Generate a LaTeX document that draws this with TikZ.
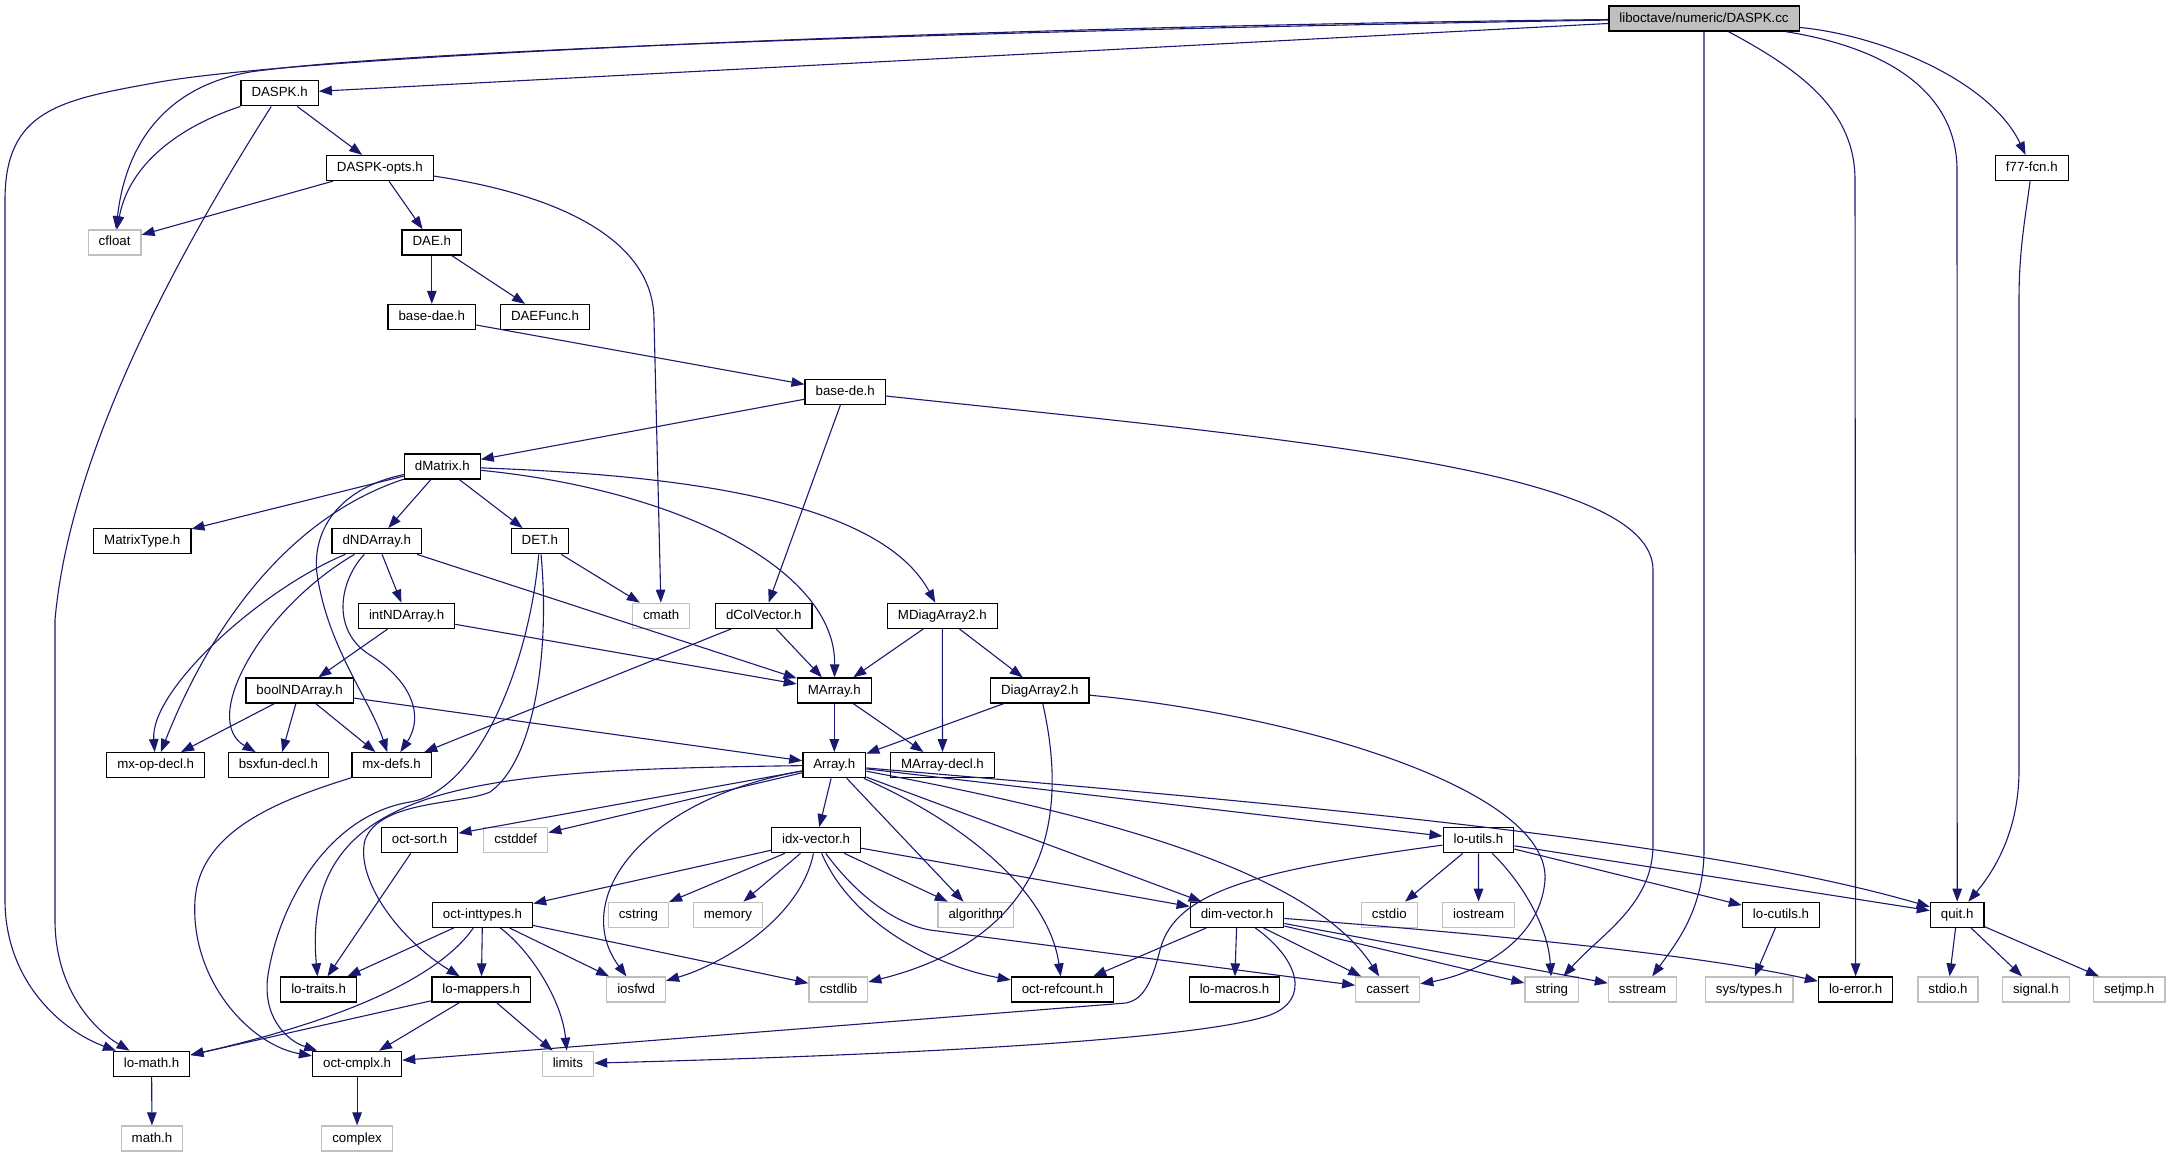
\documentclass[tikz,border=0pt]{standalone}
\usepackage{fontspec}
\setmainfont{Liberation Sans}
\usetikzlibrary{arrows.meta}

\definecolor{edgeblue}{HTML}{191970}
\definecolor{sysgrey}{HTML}{BFBFBF}

\tikzset{
  hdr/.style={draw=black, fill=white, line width=1.3pt, inner xsep=10.5pt, inner ysep=0pt,
    minimum height=25pt, text height=9.6pt, text depth=2.6pt, font=\fontsize{13.3}{15}\selectfont},
  sys/.style={hdr, draw=sysgrey},
  root/.style={hdr, fill=sysgrey},
  dep/.style={draw=edgeblue, line width=1.1pt, -{Triangle[length=13pt,width=9.5pt]}},
}

\begin{document}
\begin{tikzpicture}[x=1pt, y=-1pt]

\useasboundingbox (0,0) rectangle (2171,1157);

% les fichiers
\node[root] (cc) at (1704,18.5) {liboctave/numeric/DASPK.cc};
\node[hdr] (daspkh) at (279.6,93.3) {DASPK.h};
\node[hdr] (dopts) at (379.8,168) {DASPK-opts.h};
\node[hdr] (f77) at (2031.8,168) {f77-fcn.h};
\node[sys] (cfloat) at (114.6,242.4) {cfloat};
\node[hdr] (dae) at (431.8,242.4) {DAE.h};
\node[hdr] (basedae) at (431.8,317) {base-dae.h};
\node[hdr] (daefunc) at (545,317) {DAEFunc.h};
\node[hdr] (basede) at (845.2,391.7) {base-de.h};
\node[hdr] (dmatrix) at (442.3,466.5) {dMatrix.h};
\node[hdr] (mtype) at (142.3,541.2) {MatrixType.h};
\node[hdr] (dnd) at (376.8,541.2) {dNDArray.h};
\node[hdr] (det) at (539.8,541.2) {DET.h};
\node[hdr] (intnd) at (406.6,615.8) {intNDArray.h};
\node[sys] (cmath) at (661.2,615.8) {cmath};
\node[hdr] (dcol) at (763.8,615.8) {dColVector.h};
\node[hdr] (mdiag) at (942.3,615.8) {MDiagArray2.h};
\node[hdr] (boolnd) at (299.6,690.5) {boolNDArray.h};
\node[hdr] (marray) at (834.3,690.5) {MArray.h};
\node[hdr] (diag) at (1039.8,690.5) {DiagArray2.h};
\node[hdr] (mxop) at (155.7,765.2) {mx-op-decl.h};
\node[hdr] (bsx) at (278.4,765.2) {bsxfun-decl.h};
\node[hdr] (mxdefs) at (391.6,765.2) {mx-defs.h};
\node[hdr] (array) at (834.3,765.2) {Array.h};
\node[hdr] (mdecl) at (942.5,765.2) {MArray-decl.h};
\node[hdr] (octsort) at (419.6,840.2) {oct-sort.h};
\node[sys] (cstddef) at (515.7,840.2) {cstddef};
\node[hdr] (idx) at (816.1,840.2) {idx-vector.h};
\node[hdr] (loutils) at (1478.4,840.2) {lo-utils.h};
\node[hdr] (octint) at (482.5,914.8) {oct-inttypes.h};
\node[sys] (cstring) at (638.4,914.8) {cstring};
\node[sys] (memory) at (727.9,914.8) {memory};
\node[sys] (algorithm) at (975.9,914.8) {algorithm};
\node[hdr] (dimvec) at (1237,914.8) {dim-vector.h};
\node[sys] (cstdio) at (1389.3,914.8) {cstdio};
\node[sys] (iostream) at (1478.6,914.8) {iostream};
\node[hdr] (locutils) at (1781,914.8) {lo-cutils.h};
\node[hdr] (quit) at (1957.2,914.8) {quit.h};
\node[hdr] (lotraits) at (318.6,989.5) {lo-traits.h};
\node[hdr] (lomappers) at (481.3,989.5) {lo-mappers.h};
\node[sys] (iosfwd) at (636.1,989.5) {iosfwd};
\node[sys] (cstdlib) at (838.4,989.5) {cstdlib};
\node[hdr] (octref) at (1062.5,989.5) {oct-refcount.h};
\node[hdr] (lomacros) at (1234.5,989.5) {lo-macros.h};
\node[sys] (cassert) at (1387.7,989.5) {cassert};
\node[sys] (string) at (1551.8,989.5) {string};
\node[sys] (sstream) at (1642.6,989.5) {sstream};
\node[sys] (systypes) at (1749.1,989.5) {sys/types.h};
\node[hdr] (loerror) at (1855.6,989.5) {lo-error.h};
\node[sys] (stdioh) at (1948,989.5) {stdio.h};
\node[sys] (signalh) at (2035.9,989.5) {signal.h};
\node[sys] (setjmph) at (2129.2,989.5) {setjmp.h};
\node[hdr] (lomath) at (151.6,1063.8) {lo-math.h};
\node[hdr] (octcmplx) at (357.1,1063.8) {oct-cmplx.h};
\node[sys] (limits) at (567.9,1063.8) {limits};
\node[sys] (mathh) at (152,1138.5) {math.h};
\node[sys] (complex) at (357.1,1138.5) {complex};

% DASPK.cc
\draw[dep] (cc) .. controls (1000,30) and (400,50) .. (250,72) .. controls (160,88) and (125,150) .. (cfloat);
\draw[dep] (cc) -- (daspkh);
\draw[dep] (cc) .. controls (1000,26) and (300,55) .. (154,83) .. controls (60,100) and (5,110) .. (5,200) -- (5,900) .. controls (5,980) and (60,1030) .. (lomath);
\draw[dep] (cc) .. controls (1880,35) and (1990,80) .. (f77);
\draw[dep] (cc) .. controls (1900,50) and (1957,100) .. (1957,170) -- (quit);
\draw[dep] (cc) .. controls (1800,70) and (1855,110) .. (1855,180) -- (loerror);
\draw[dep] (cc) -- (1704,850) .. controls (1704,910) and (1675,945) .. (sstream);
\draw[dep] (f77) .. controls (2025,220) and (2019,250) .. (2019,300) -- (2019,770) .. controls (2019,830) and (1995,870) .. (quit);

% DASPK.h, DAE
\draw[dep] (daspkh) .. controls (170,130) and (128,170) .. (cfloat);
\draw[dep] (daspkh) -- (dopts);
\draw[dep] (daspkh) .. controls (180,250) and (70,450) .. (55,620) -- (55,920) .. controls (55,990) and (95,1030) .. (lomath);
\draw[dep] (dopts) -- (cfloat);
\draw[dep] (dopts) -- (dae);
\draw[dep] (dopts) .. controls (560,195) and (654,240) .. (654,320) -- (cmath);
\draw[dep] (dae) -- (basedae);
\draw[dep] (dae) -- (daefunc);
\draw[dep] (basedae) -- (basede);
\draw[dep] (basede) -- (dmatrix);
\draw[dep] (basede) -- (dcol);
\draw[dep] (basede) .. controls (1300,440) and (1653,470) .. (1653,570) -- (1653,845) .. controls (1653,905) and (1600,935) .. (string);

% matrices
\draw[dep] (dmatrix) -- (mtype);
\draw[dep] (dmatrix) -- (dnd);
\draw[dep] (dmatrix) -- (det);
\draw[dep] (dmatrix) .. controls (280,520) and (205,640) .. (mxop);
\draw[dep] (dmatrix) .. controls (330,490) and (310,540) .. (318,580) .. controls (330,650) and (370,700) .. (mxdefs);
\draw[dep] (dmatrix) .. controls (680,490) and (836,570) .. (marray);
\draw[dep] (dmatrix) .. controls (680,475) and (880,500) .. (mdiag);
\draw[dep] (dnd) -- (intnd);
\draw[dep] (dnd) .. controls (260,590) and (150,690) .. (mxop);
\draw[dep] (dnd) .. controls (260,610) and (200,720) .. (bsx);
\draw[dep] (dnd) .. controls (340,580) and (330,630) .. (370,655) .. controls (410,680) and (425,715) .. (mxdefs);
\draw[dep] (dnd) -- (marray);
\draw[dep] (intnd) -- (boolnd);
\draw[dep] (intnd) -- (marray);
\draw[dep] (boolnd) -- (mxop);
\draw[dep] (boolnd) -- (bsx);
\draw[dep] (boolnd) -- (mxdefs);
\draw[dep] (boolnd) -- (array);
\draw[dep] (det) -- (cmath);
\draw[dep] (det) .. controls (530,660) and (480,790) .. (410,802) .. controls (330,815) and (280,900) .. (268,975) .. controls (262,1015) and (285,1040) .. (octcmplx);
\draw[dep] (det) .. controls (550,650) and (535,760) .. (490,792) .. controls (460,805) and (380,800) .. (365,840) .. controls (355,880) and (400,940) .. (lomappers);
\draw[dep] (dcol) -- (marray);
\draw[dep] (dcol) -- (mxdefs);
\draw[dep] (mdiag) -- (marray);
\draw[dep] (mdiag) -- (mdecl);
\draw[dep] (mdiag) -- (diag);
\draw[dep] (marray) -- (array);
\draw[dep] (marray) -- (mdecl);
\draw[dep] (diag) -- (array);
\draw[dep] (diag) .. controls (1300,715) and (1550,790) .. (1545,880) .. controls (1540,945) and (1470,975) .. (cassert);
\draw[dep] (diag) .. controls (1060,780) and (1075,930) .. (cstdlib);
\draw[dep] (mxdefs) .. controls (280,800) and (200,830) .. (195,900) .. controls (190,980) and (250,1045) .. (octcmplx);

% Array.h
\draw[dep] (array) -- (idx);
\draw[dep] (array) .. controls (480,770) and (300,780) .. (lotraits);
\draw[dep] (array) -- (octsort);
\draw[dep] (array) -- (cstddef);
\draw[dep] (array) .. controls (640,800) and (570,900) .. (iosfwd);
\draw[dep] (array) -- (algorithm);
\draw[dep] (array) .. controls (980,830) and (1050,900) .. (octref);
\draw[dep] (array) -- (dimvec);
\draw[dep] (array) .. controls (1100,815) and (1310,870) .. (cassert);
\draw[dep] (array) -- (loutils);
\draw[dep] (array) .. controls (1300,805) and (1700,840) .. (quit);

% idx-vector.h
\draw[dep] (idx) -- (octint);
\draw[dep] (idx) -- (cstring);
\draw[dep] (idx) -- (memory);
\draw[dep] (idx) .. controls (800,920) and (720,965) .. (iosfwd);
\draw[dep] (idx) .. controls (850,920) and (930,965) .. (octref);
\draw[dep] (idx) .. controls (860,900) and (900,925) .. (930,930) -- (cassert);
\draw[dep] (idx) -- (algorithm);
\draw[dep] (idx) -- (dimvec);

% oct-inttypes.h
\draw[dep] (octint) -- (lotraits);
\draw[dep] (octint) -- (lomappers);
\draw[dep] (octint) .. controls (430,990) and (300,1030) .. (lomath);
\draw[dep] (octint) -- (iosfwd);
\draw[dep] (octint) -- (cstdlib);
\draw[dep] (octint) .. controls (530,950) and (562,1000) .. (limits);
\draw[dep] (lomappers) -- (lomath);
\draw[dep] (lomappers) -- (octcmplx);
\draw[dep] (lomappers) -- (limits);
\draw[dep] (octsort) -- (lotraits);
\draw[dep] (lomath) -- (mathh);
\draw[dep] (octcmplx) -- (complex);

% lo-utils.h, dim-vector.h, quit.h
\draw[dep] (loutils) .. controls (1260,870) and (1175,890) .. (1160,950) .. controls (1150,990) and (1140,1000) .. (1126,1003) -- (octcmplx);
\draw[dep] (loutils) -- (cstdio);
\draw[dep] (loutils) -- (iostream);
\draw[dep] (loutils) .. controls (1520,880) and (1548,925) .. (string);
\draw[dep] (loutils) -- (quit);
\draw[dep] (loutils) -- (locutils);
\draw[dep] (locutils) -- (systypes);
\draw[dep] (dimvec) -- (octref);
\draw[dep] (dimvec) -- (lomacros);
\draw[dep] (dimvec) -- (cassert);
\draw[dep] (dimvec) -- (string);
\draw[dep] (dimvec) -- (sstream);
\draw[dep] (dimvec) .. controls (1500,935) and (1700,955) .. (loerror);
\draw[dep] (dimvec) .. controls (1300,960) and (1310,1000) .. (1270,1015) .. controls (1200,1040) and (900,1055) .. (limits);
\draw[dep] (quit) -- (stdioh);
\draw[dep] (quit) -- (signalh);
\draw[dep] (quit) -- (setjmph);

\end{tikzpicture}
\end{document}
